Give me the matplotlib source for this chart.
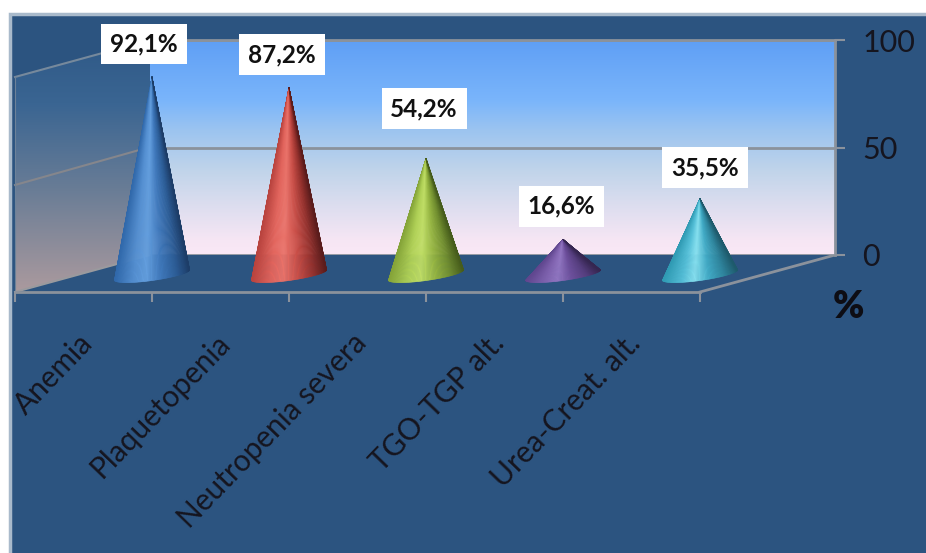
import numpy as np
import matplotlib
matplotlib.use("Agg")
import matplotlib.pyplot as plt
from matplotlib.collections import PolyCollection
from matplotlib.colors import LinearSegmentedColormap
from matplotlib.patches import Polygon, Rectangle
from matplotlib.transforms import ScaledTranslation

categories = ["Anemia", "Plaquetopenia", "Neutropenia severa", "TGO-TGP alt.", "Urea-Creat. alt."]
values = [92.1, 87.2, 54.2, 16.6, 35.5]
value_labels = ["92,1%", "87,2%", "54,2%", "16,6%", "35,5%"]
y_ticks = [0, 50, 100]

label_dx_px = [-8, -7, -2, -2, 5]
label_dy_px = [33, 33, 50, 33, 31]
cone_colors = [
    ["#3068aa", "#5590d2", "#649fdf", "#3f78bb", "#2d5e98", "#1d3d68"],
    ["#b8433e", "#e2645c", "#ea736a", "#c94e47", "#96322e", "#5a1c1c"],
    ["#84a338", "#b0d156", "#c0de66", "#96b642", "#728f30", "#465c1c"],
    ["#5f468e", "#8163b0", "#9276c2", "#6d4f9c", "#563e7e", "#352650"],
    ["#2f9ab3", "#55c0d8", "#86e0ef", "#41abc6", "#2f869e", "#1e5a6c"],
]

W, H = 926, 553
BG = "#2c5480"
GRID = "#8b929c"
TXT = "#15151f"
plt.rcParams["font.family"] = ["Lato", "DejaVu Sans"]

fig = plt.figure(figsize=(W / 100, H / 100), dpi=100, facecolor="white")


def px_axes(l, t, r, b, **kw):
    return fig.add_axes([l / W, 1 - b / H, (r - l) / W, (b - t) / H], **kw)


# Panel, side wall and floor edges (pixel space decoration)
bg = px_axes(0, 0, W, H)
bg.set_xlim(0, W)
bg.set_ylim(H, 0)
bg.axis("off")
bg.add_patch(Rectangle((10, 14), W, H, fc=BG, ec="#a9bacb", lw=2.5))
side_cmap = LinearSegmentedColormap.from_list(
    "side", [(0, "#2f5987"), (0.25, "#3a6592"), (0.6, "#6a7d96"), (1, "#ab9a9e")])
side_poly = Polygon([(15, 77), (150, 40), (150, 255), (15, 292)], transform=bg.transData, fc="none", ec="none")
bg.add_patch(side_poly)
im = bg.imshow(np.linspace(0, 1, 256)[:, None], extent=(15, 150, 292, 40), cmap=side_cmap, aspect="auto", zorder=1)
im.set_clip_path(side_poly)
bg.set_xlim(0, W)
bg.set_ylim(H, 0)
bg.plot([15, 150], [77, 40], color="#76899c", lw=1.5, zorder=2)
bg.plot([15, 150], [185, 147], color="#85868c", lw=1.5, zorder=2)
bg.plot([15, 15], [77, 292], color="#6d8299", lw=0.8, zorder=2)
bg.plot([15, 150], [292, 255], color="#9a9a9e", lw=1.5, zorder=2)
bg.plot([700, 835], [292, 255], color=GRID, lw=2, zorder=2)

# Back wall: the value axis
wall = px_axes(150, 40, 835, 255)
wall.set_xlim(0, 1)
wall.set_ylim(0, 100)
wall_cmap = LinearSegmentedColormap.from_list(
    "wall", [(0, "#fae8f6"), (0.07, "#f6e6f4"), (0.256, "#d8dcee"), (0.395, "#c0d4ea"),
             (0.58, "#9cc4f0"), (0.72, "#7ab5fb"), (1, "#5f9ff5")])
wall.imshow(np.linspace(0, 1, 256)[:, None], extent=(0, 1, 0, 100), origin="lower",
            cmap=wall_cmap, aspect="auto", zorder=0)
wall.set_xticks([])
wall.set_yticks(y_ticks)
wall.yaxis.tick_right()
wall.tick_params(axis="y", length=7.5, width=1.5, color=GRID, pad=12, labelsize=22, labelcolor=TXT)
wall.grid(axis="y", color=GRID, lw=2)
wall.set_axisbelow(True)
for name, sp in wall.spines.items():
    sp.set_visible(name in ("right", "top"))
    sp.set_color(GRID)
    sp.set_linewidth(2)

# Front plane: categories and cones
PX_PER_UNIT = 2.15
ZERO_PX = 275
ax = px_axes(15, 0, 700, 292)
ax.patch.set_alpha(0)
ax.set_xlim(-1, 4)
ax.set_ylim(-(292 - ZERO_PX) / PX_PER_UNIT, ZERO_PX / PX_PER_UNIT)
for name, sp in ax.spines.items():
    sp.set_visible(name == "bottom")
ax.spines["bottom"].set_color(GRID)
ax.spines["bottom"].set_linewidth(2)
ax.set_yticks([])
ax.set_xticks([-1, 0, 1, 2, 3, 4])
ax.set_xticklabels([""] + categories, rotation=46, ha="right", va="top", rotation_mode="anchor",
                   fontsize=21.4, color=TXT)
ax.tick_params(axis="x", length=7, width=1.5, color=GRID, pad=0)
shift = ScaledTranslation(-74 / 100, -27 / 100, fig.dpi_scale_trans)
for lab in ax.get_xticklabels():
    lab.set_transform(lab.get_transform() + shift)

XU = 685 / 5
ang = np.linspace(np.pi, 2 * np.pi, 90)
tilt = np.deg2rad(8)
ex = 38 * np.cos(ang) * np.cos(tilt) - 5.5 * np.sin(ang) * np.sin(tilt)
ey = 38 * np.cos(ang) * np.sin(tilt) + 5.5 * np.sin(ang) * np.cos(tilt)
for i, (v, cols) in enumerate(zip(values, cone_colors)):
    cmap = LinearSegmentedColormap.from_list(
        f"c{i}", list(zip([0, 0.25, 0.42, 0.62, 0.82, 1], cols)))
    bx = i + ex / XU
    by = ey / PX_PER_UNIT
    strips = [[(i, v), (bx[k], by[k]), (bx[k + 1], by[k + 1])] for k in range(len(ang) - 1)]
    t = (ex[:-1] - ex.min()) / (ex.max() - ex.min())
    cols_rgba = cmap(t)
    pc = PolyCollection(strips, facecolors=cols_rgba, edgecolors=cols_rgba, linewidths=0.4,
                        clip_on=False, zorder=3)
    ax.add_collection(pc)
    ax.annotate(value_labels[i], xy=(i, v), xytext=(label_dx_px[i] * 0.72, label_dy_px[i] * 0.72),
                textcoords="offset points", ha="center", va="center", fontsize=17.5,
                fontweight="bold", color="#111111", zorder=5,
                bbox=dict(boxstyle="square,pad=0.36", fc="white", ec="none"))

fig.text(848 / W, 1 - 307 / H, "%", ha="center", va="center", fontsize=27, fontweight="heavy", color="#0d0d14")
fig.savefig("out.png", dpi=100, facecolor=fig.get_facecolor())
